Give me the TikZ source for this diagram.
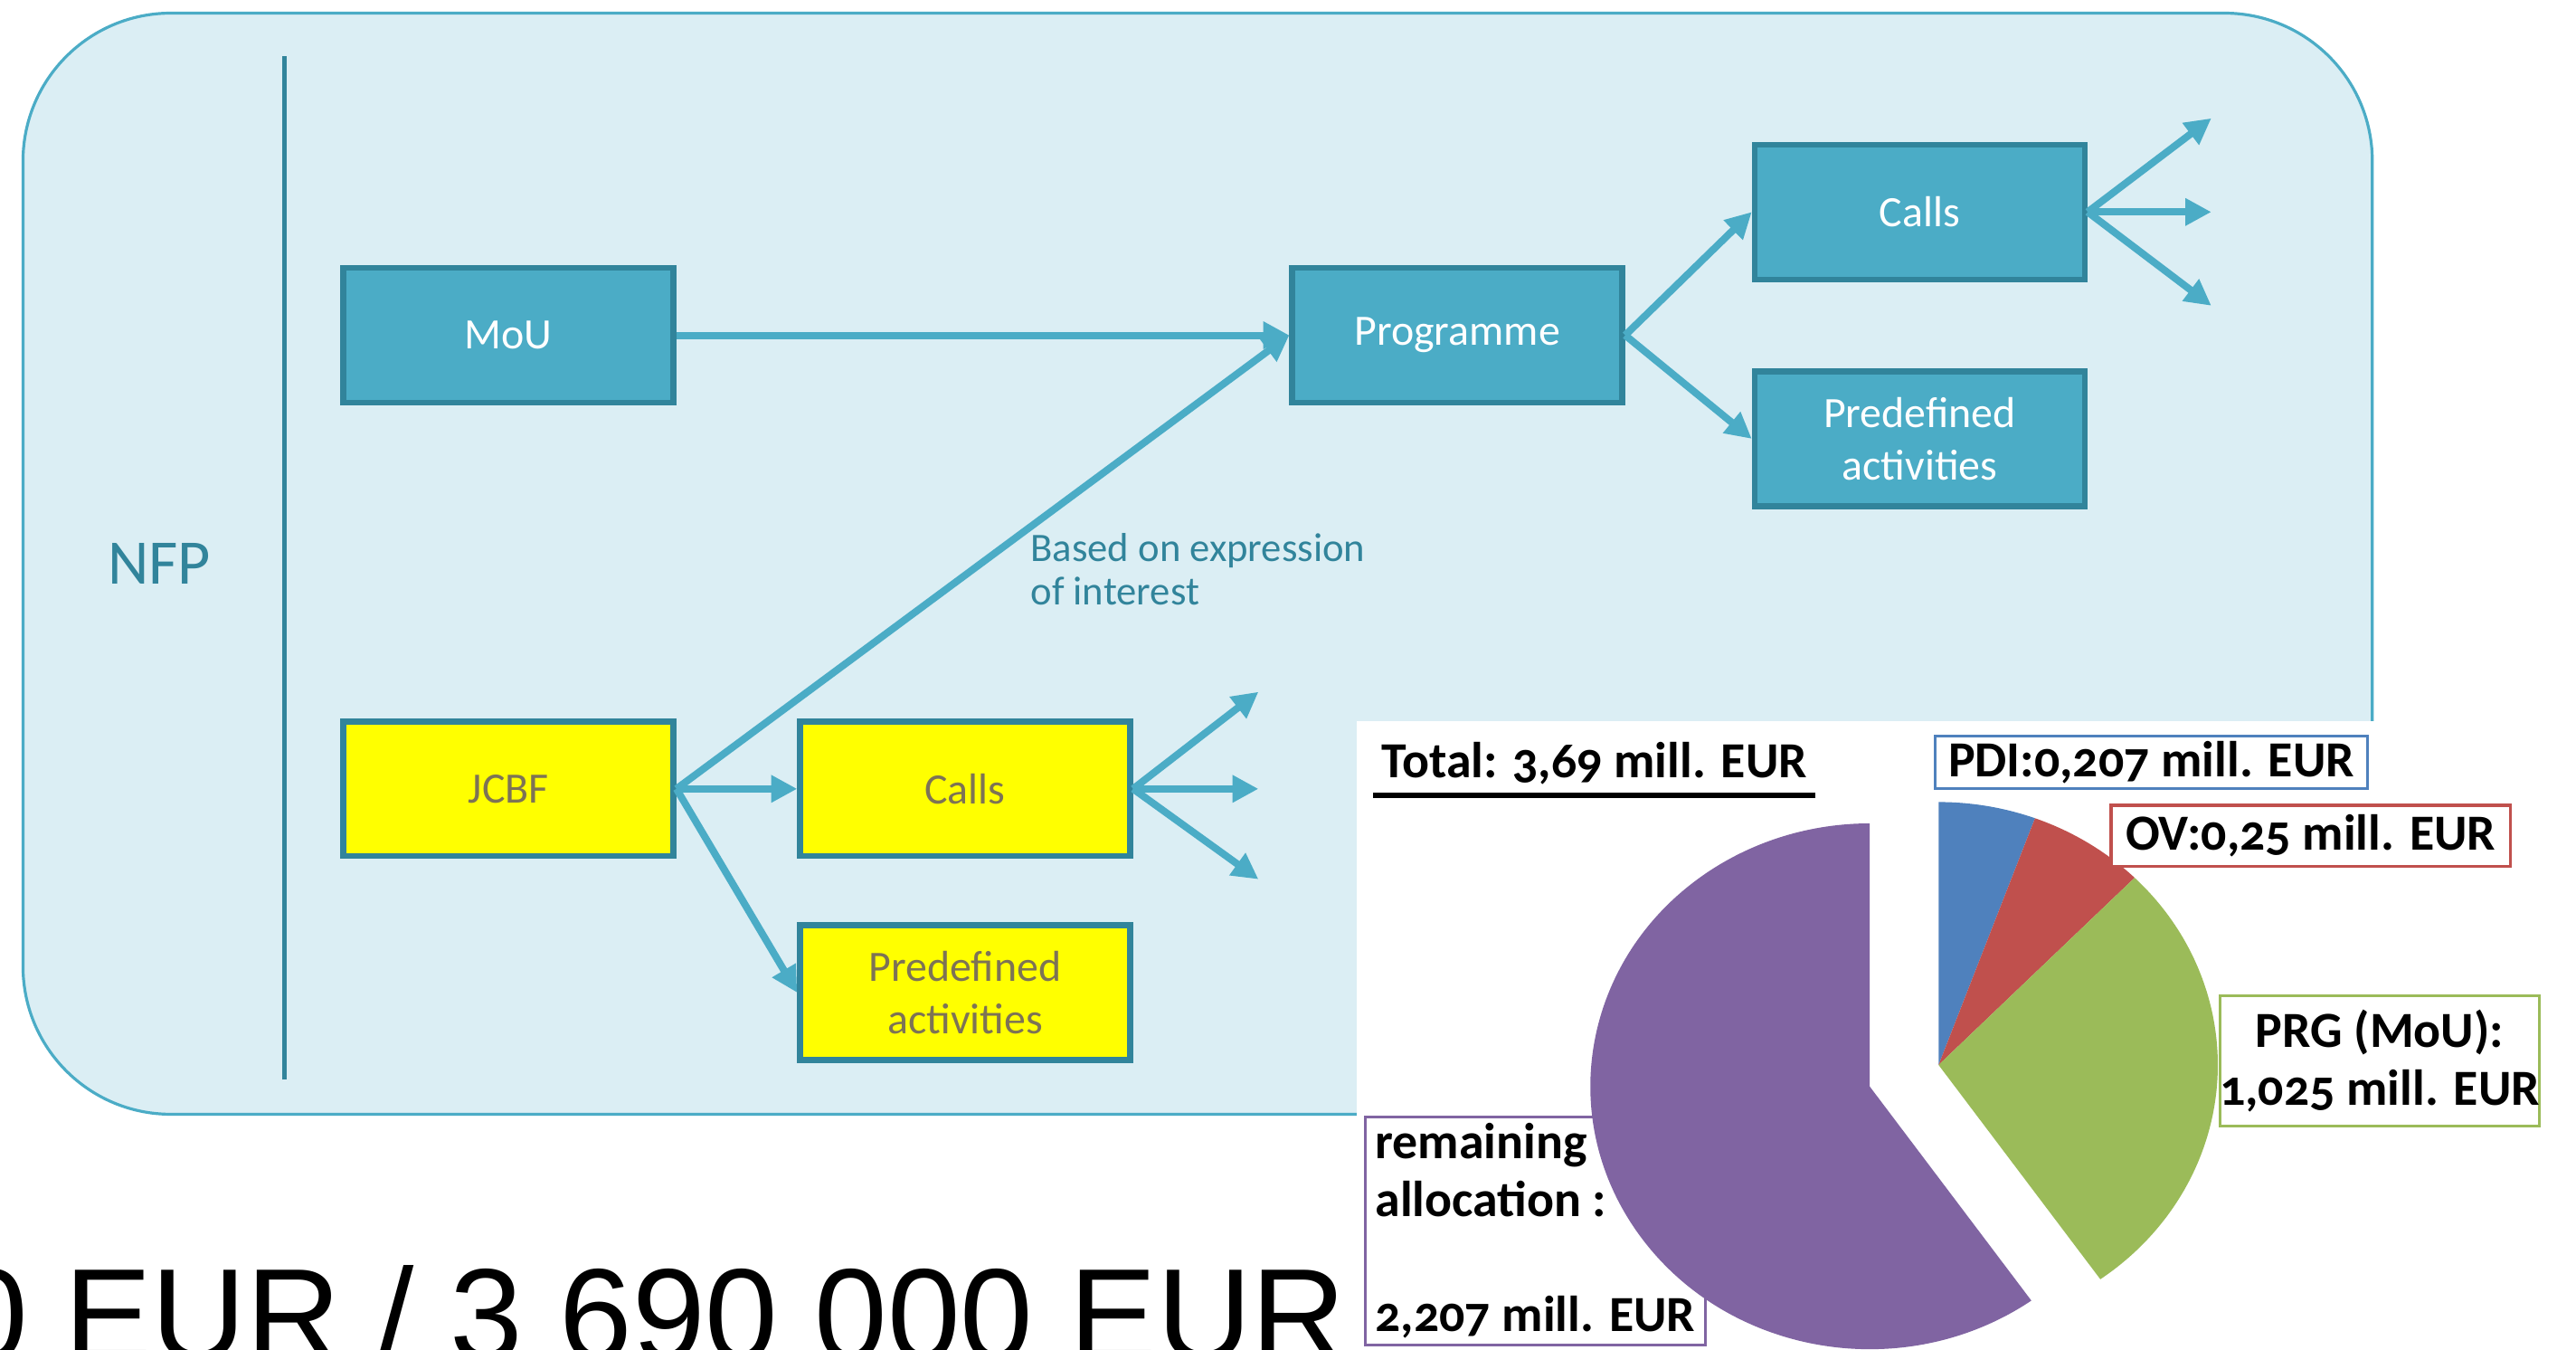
\documentclass[tikz,border=0pt]{standalone}
\usepackage{fontspec}
\setmainfont{Carlito}
\newfontfamily\bigfont{Liberation Sans}
\newfontfamily\piefont[Numbers=OldStyle]{Carlito}
\usetikzlibrary{positioning,arrows.meta}
\definecolor{panel}{RGB}{219,238,244}
\definecolor{nfpteal}{RGB}{75,172,198}
\definecolor{nfpdark}{RGB}{49,132,155}
\definecolor{jtext}{RGB}{125,115,85}
\definecolor{jyellow}{RGB}{255,255,0}
\definecolor{pdi}{RGB}{79,129,189}
\definecolor{ov}{RGB}{192,80,77}
\definecolor{prg}{RGB}{155,187,89}
\definecolor{rest}{RGB}{128,100,162}

\begin{document}
\begin{tikzpicture}[x=0.02cm,y=0.02cm,
  box/.style={draw=nfpdark,line width=2pt,minimum width=4.02cm,minimum height=1.64cm,align=center,font=\fontsize{15}{18.3}\selectfont},
  bluebox/.style={box,fill=nfpteal,text=white},
  yellowbox/.style={box,fill=jyellow,text=jtext},
  flow/.style={draw=nfpteal,line width=2.5pt,-{Triangle[length=9pt,width=9pt]}},
  tag/.style={line width=1pt,fill=white,inner sep=1pt,font=\piefont\bfseries\fontsize{17.5}{20}\selectfont}]
\useasboundingbox (0,0) rectangle (1568,821);
\clip (0,0) rectangle (1568,821);
\draw[draw=nfpteal,fill=panel,line width=1pt,rounded corners=1.8cm] (14,143) rectangle (1444,813);
\draw[nfpdark,line width=1.7pt] (173,164) -- (173,787);
\node [text=nfpdark,font=\fontsize{22}{26}\selectfont] (nfp) at (97,478) {NFP};

\node [bluebox] (mou) at (309.5,617) {MoU};
\node [bluebox] (prog) at (887,617) {Programme};
\node [bluebox] (calls) at (1168.5,692) {Calls};
\node [bluebox] (predef) at (1168.5,554) {Predefined\\activities};
\node [yellowbox] (jcbf) at (309.5,341) {JCBF};
\node [yellowbox, right=1.47cm of jcbf] (jcalls) {Calls};
\node [yellowbox, below=0.77cm of jcalls] (jpredef) {Predefined\\activities};
\node [anchor=north west,align=left,inner sep=0pt,text=nfpdark,font=\fontsize{14}{15}\selectfont] (eoi) at (627,497) {Based on expression\\of interest};

\coordinate (c1) at (1346,749);
\coordinate (c2) at (1346,692);
\coordinate (c3) at (1346,635);
\coordinate (j1) at (766,400);
\coordinate (j2) at (766,341);
\coordinate (j3) at (766,286);

\draw[flow] (mou) -- (prog);
\draw[flow] (jcbf.east) -- (prog.west);
\draw[flow] (jcbf.east) -- (jcalls.west);
\draw[flow] (jcbf.east) -- (jpredef.west);
\draw[flow] (prog.east) -- (calls.west);
\draw[flow] (prog.east) -- (predef.west);
\draw[flow] (calls.east) -- (c1);
\draw[flow] (calls.east) -- (c2);
\draw[flow] (calls.east) -- (c3);
\draw[flow] (jcalls.east) -- (j1);
\draw[flow] (jcalls.east) -- (j2);
\draw[flow] (jcalls.east) -- (j3);

\fill[white] (826,0) rectangle (1568,382);
\node [tag,anchor=base west,inner sep=0pt] (total) at (840,348) {Total: 3,69 mill. EUR};
\draw[line width=1.8pt] ([shift={(-4,-11)}]total.base west) -- ([shift={(4,-11)}]total.base east);
\node [tag,draw=rest,align=left,minimum width=4.14cm,minimum height=2.78cm] (resttag) at (934.5,72) {remaining\\allocation :\\\mbox{}\\2,207 mill. EUR};

\fill[pdi] (1180,173) -- ++(90:3.4cm and 3.2cm) arc[start angle=90,end angle=69.8,x radius=3.4cm,y radius=3.2cm] -- cycle;
\fill[ov] (1180,173) -- ++(69.8:3.4cm and 3.2cm) arc[start angle=69.8,end angle=45.4,x radius=3.4cm,y radius=3.2cm] -- cycle;
\fill[prg] (1180,173) -- ++(45.4:3.4cm and 3.2cm) arc[start angle=45.4,end angle=-54.6,x radius=3.4cm,y radius=3.2cm] -- cycle;
\fill[rest] (1138,160) -- ++(-54.6:3.4cm and 3.2cm) arc[start angle=-54.6,end angle=-270,x radius=3.4cm,y radius=3.2cm] -- cycle;

\node [tag,draw=pdi,minimum width=5.26cm,minimum height=0.64cm] (pditag) at (1309.5,357) {PDI:0,207 mill. EUR};
\node [tag,draw=ov,minimum width=4.86cm,minimum height=0.74cm] (ovtag) at (1406.5,312.5) {OV:0,25 mill. EUR};
\node [tag,draw=prg,align=center,inner sep=0pt,minimum width=3.86cm,minimum height=1.58cm] (prgtag) at (1448.5,175.5) {PRG (MoU):\\1,025 mill. EUR};

\node [anchor=base east,inner sep=0pt,font=\bigfont\fontsize{45.4}{50}\selectfont] (sum) at (820,-7) {0 EUR / 3 690 000 EUR};
\end{tikzpicture}
\end{document}
